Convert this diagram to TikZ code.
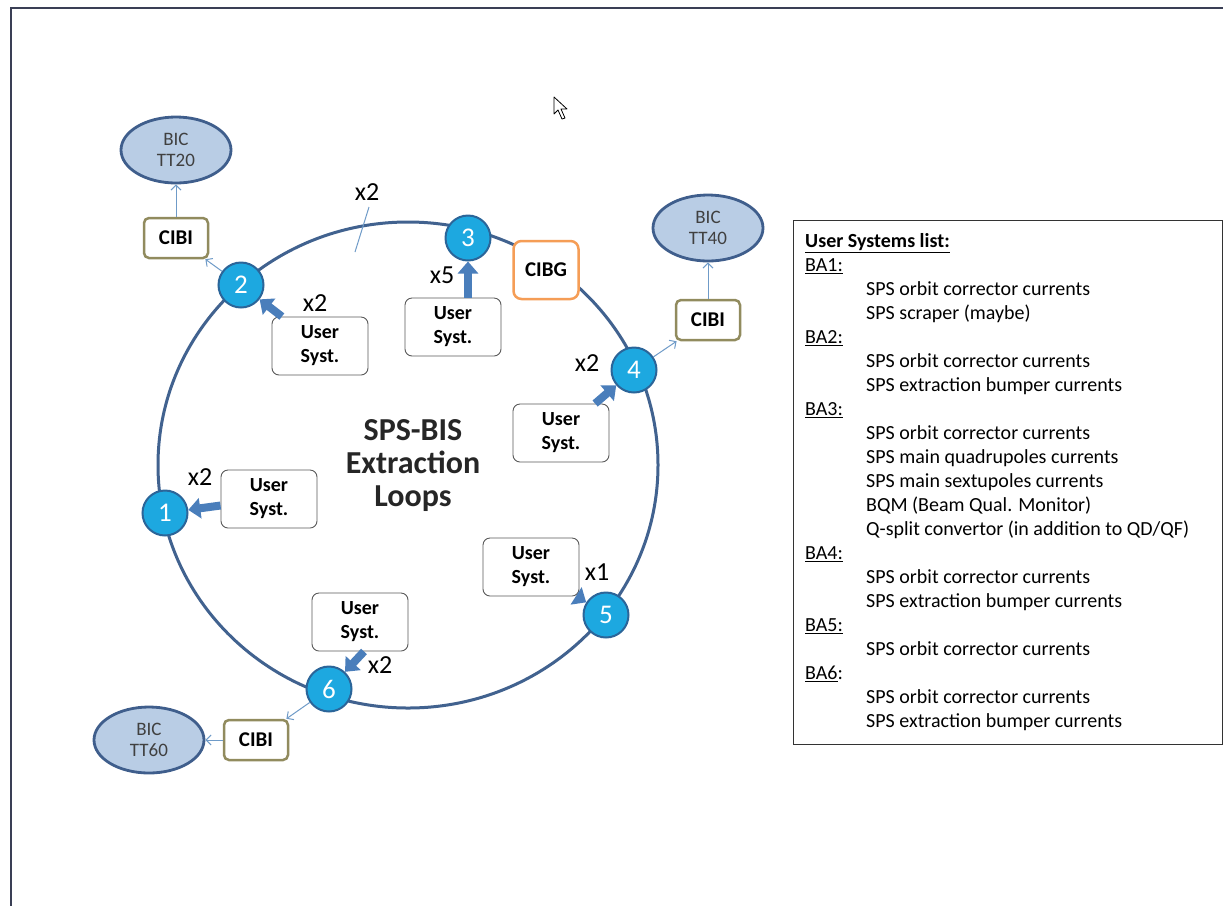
\documentclass[tikz,border=0pt]{standalone}
\usepackage{fontspec}
\setmainfont{Carlito}
\usetikzlibrary{arrows.meta,shapes.geometric,calc}
\definecolor{ringc}{HTML}{41628F}
\definecolor{bubfill}{HTML}{1DA8E0}
\definecolor{bubdraw}{HTML}{2B6599}
\definecolor{bicfill}{HTML}{B9CDE5}
\definecolor{bicdraw}{HTML}{3F5E8C}
\definecolor{cibic}{HTML}{918B5E}
\definecolor{cibgc}{HTML}{F59D56}
\definecolor{fatc}{HTML}{4A7EBB}
\definecolor{thinc}{HTML}{6F9BC8}
\definecolor{framec}{HTML}{3A3F55}
\definecolor{titlec}{HTML}{262626}
\begin{document}
\begin{tikzpicture}[x=1pt,y=-1pt,
  framel/.style={draw=framec,line width=1.5pt},
  ringl/.style={draw=ringc,line width=3pt},
  bub/.style={circle,fill=bubfill,draw=bubdraw,line width=2pt,minimum size=45pt,inner sep=0pt,text=white,font=\fontsize{27}{27}\selectfont},
  usbox/.style={rectangle,rounded corners=7pt,fill=white,draw=black!65,line width=0.9pt,minimum width=96pt,minimum height=58pt,inner sep=0pt,align=center,font=\bfseries\fontsize{20}{24}\selectfont},
  bic/.style={ellipse,fill=bicfill,draw=bicdraw,line width=2.8pt,minimum width=110pt,minimum height=66pt,inner sep=0pt,align=center,text=black!75,font=\fontsize{19}{21}\selectfont},
  cibi/.style={rectangle,rounded corners=5pt,fill=white,draw=cibic,line width=2.5pt,minimum width=64pt,minimum height=40pt,inner sep=0pt,font=\bfseries\fontsize{21}{21}\selectfont},
  cibg/.style={rectangle,rounded corners=8pt,fill=white,draw=cibgc,line width=2.5pt,minimum width=65pt,minimum height=58pt,inner sep=0pt,font=\bfseries\fontsize{21}{21}\selectfont},
  fat/.style={draw=fatc,line width=8pt,-{Triangle[width=20pt,length=12pt]}},
  thinarr/.style={draw=thinc,line width=1pt,-{Straight Barb[length=5pt,width=10pt]}},
  mult/.style={font=\fontsize{26}{26}\selectfont,inner sep=0pt},
  li/.style={font=\fontsize{20}{24}\selectfont,inner sep=0pt,anchor=base west},
  titlet/.style={align=center,font=\bfseries\fontsize{32}{33}\selectfont}
]
\useasboundingbox (0,0) rectangle (1223,906);
\fill[white] (0,0) rectangle (1223,906);
\draw[framel] (1223,8) -- (11,8) -- (11,906);

% mouse cursor
\draw[fill=white,line width=0.8pt,line join=round] (554,97) -- (554,114) -- (558,110) -- (562,119) -- (565,118) -- (561,109) -- (567,109) -- cycle;

% ring
\draw[ringl] (408,465) ellipse [x radius=250pt, y radius=243pt];

% tick mark on ring
\coordinate (tka) at (369,207);
\coordinate (tkb) at (355,252);
\draw[draw=thinc,line width=1pt] (tka) -- (tkb);
\node[mult] (mtop) at (367,192) {x2};

% title
\node[titlet,text=titlec] (title) at (413,466) {SPS-BIS\\Extraction\\Loops};

% BIC, CIBI, CIBG
\node[bic] (bic20) at (176,150) {BIC\\TT20};
\node[bic] (bic40) at (708,228) {BIC\\TT40};
\node[bic] (bic60) at (149,740) {BIC\\TT60};
\node[cibi] (c20) at (176,238) {CIBI};
\node[cibi] (c40) at (708,320) {CIBI};
\node[cibi] (c60) at (256,740) {CIBI};
\node[cibg] (cibg) at (546,270) {CIBG};

% numbered nodes
\node[bub] (n1) at (165,513) {1};
\node[bub] (n2) at (241,285) {2};
\node[bub] (n3) at (468,238) {3};
\node[bub] (n4) at (634,370) {4};
\node[bub] (n5) at (606,615) {5};
\node[bub] (n6) at (329,689) {6};

% user systems
\node[usbox] (us1) at (269,499) {User\\Syst.};
\node[usbox] (us2) at (320,346) {User\\Syst.};
\node[usbox] (us3) at (453,327) {User\\Syst.};
\node[usbox] (us4) at (561,433) {User\\Syst.};
\node[usbox] (us5) at (531,567) {User\\Syst.};
\node[usbox] (us6) at (360,622) {User\\Syst.};

% fat arrows
\draw[fat] (us1) -- (n1);
\draw[fat] (us2) -- (n2);
\draw[fat] (n3 |- us3.north) -- (n3);
\draw[fat] (us4) -- (n4);
\draw[fat] (us5) -- (n5);
\draw[fat] ([xshift=4pt]us6.south) -- (n6);

% multiplicities
\node[mult] (m1) at (200,477) {x2};
\node[mult] (m2) at (315,303) {x2};
\node[mult] (m3) at (442,275) {x5};
\node[mult] (m4) at (587,363) {x2};
\node[mult] (m5) at (597,572) {x1};
\node[mult] (m6) at (380,665) {x2};

% thin arrows
\draw[thinarr] (n2) -- (c20);
\draw[thinarr] (c20) -- (bic20);
\draw[thinarr] (n4) -- (c40);
\draw[thinarr] (c40) -- (bic40);
\draw[thinarr] (n6) -- (c60);
\draw[thinarr] (c60) -- (bic60);

% list
\node[draw=black!80,line width=1pt,minimum width=429pt,minimum height=524pt,anchor=north west,inner sep=0pt] (list) at (793,220) {};
\node[li] (l0) at (805,247.5) {\textbf{\underline{User Systems list:}}};
\node[li] (l1) at (805,271.5) {\underline{BA1:}};
\node[li] (l2) at (866,295.5) {SPS orbit corrector currents};
\node[li] (l3) at (866,319.5) {SPS scraper (maybe)};
\node[li] (l4) at (805,343.5) {\underline{BA2:}};
\node[li] (l5) at (866,367.5) {SPS orbit corrector currents};
\node[li] (l6) at (866,391.5) {SPS extraction bumper currents};
\node[li] (l7) at (805,415.5) {\underline{BA3:}};
\node[li] (l8) at (866,439.5) {SPS orbit corrector currents};
\node[li] (l9) at (866,463.5) {SPS main quadrupoles currents};
\node[li] (l10) at (866,487.5) {SPS main sextupoles currents};
\node[li] (l11) at (866,511.5) {BQM (Beam Qual. Monitor)};
\node[li] (l12) at (866,535.5) {Q-split convertor (in addition to QD/QF)};
\node[li] (l13) at (805,559.5) {\underline{BA4:}};
\node[li] (l14) at (866,583.5) {SPS orbit corrector currents};
\node[li] (l15) at (866,607.5) {SPS extraction bumper currents};
\node[li] (l16) at (805,631.5) {\underline{BA5:}};
\node[li] (l17) at (866,655.5) {SPS orbit corrector currents};
\node[li] (l18) at (805,679.5) {\underline{BA6}:};
\node[li] (l19) at (866,703.5) {SPS orbit corrector currents};
\node[li] (l20) at (866,727.5) {SPS extraction bumper currents};
\end{tikzpicture}
\end{document}
